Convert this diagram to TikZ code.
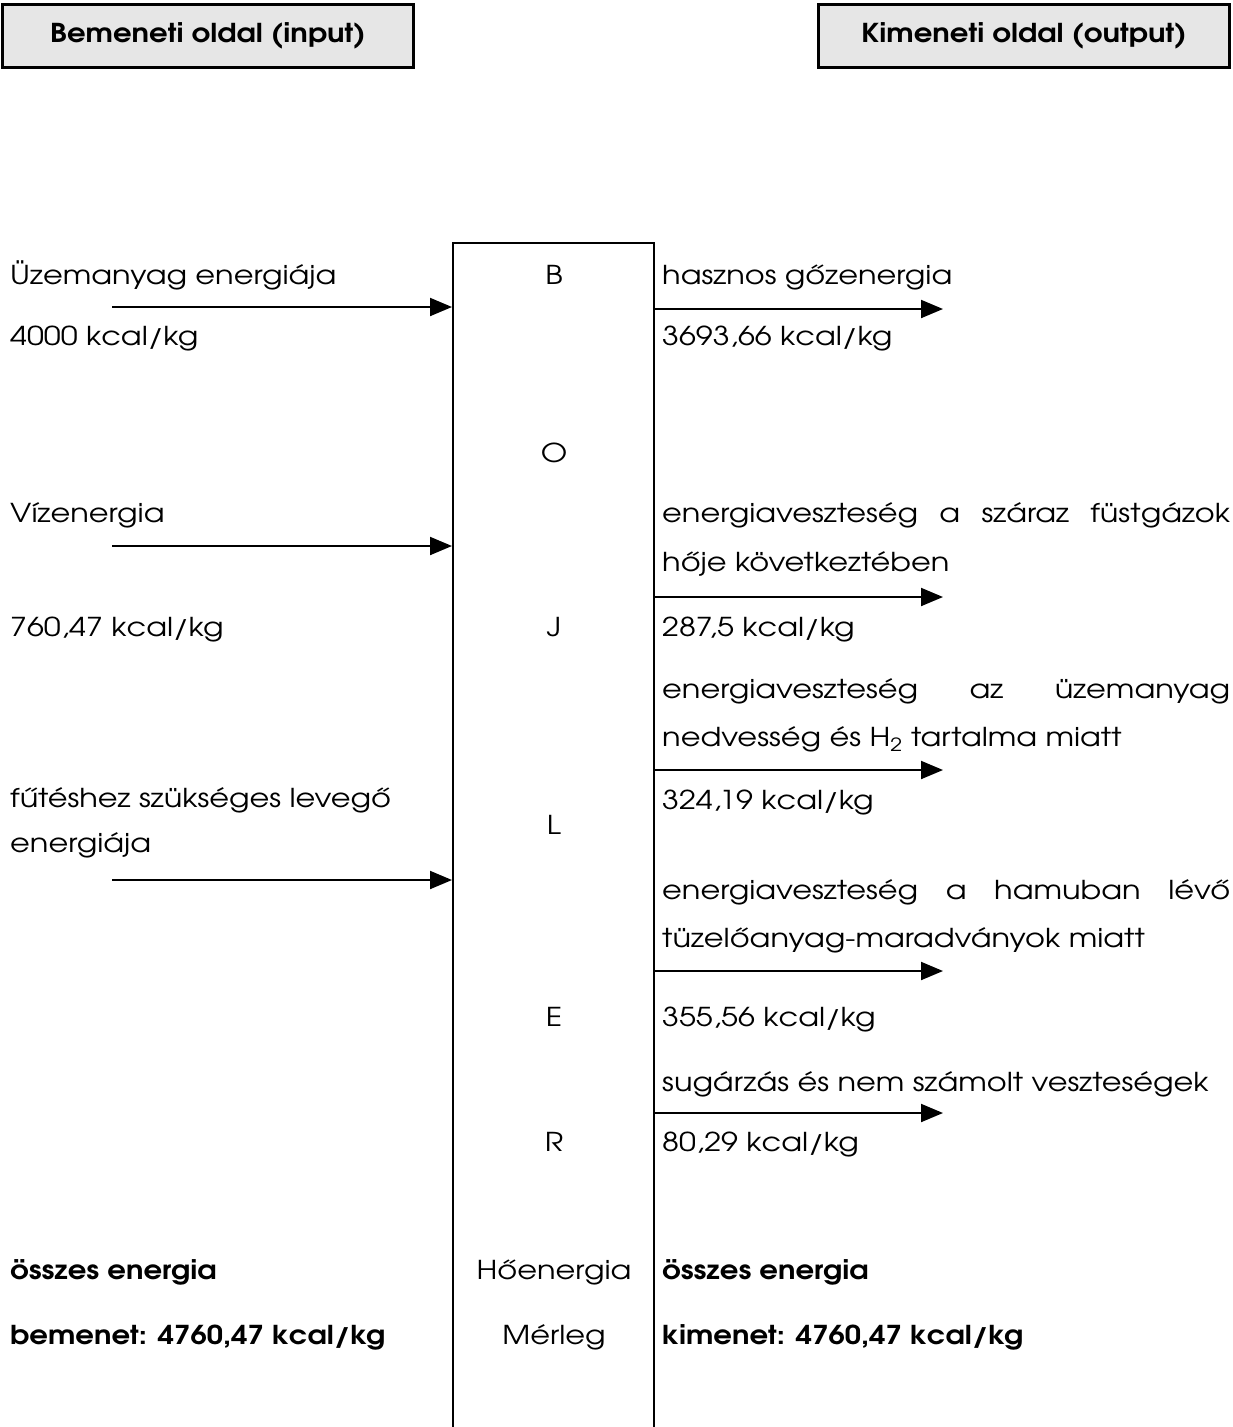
\documentclass[tikz,border=0pt]{standalone}
\usepackage{fontspec}
\setmainfont{texgyreadventor}[
  Extension=.otf,
  UprightFont=*-regular,
  BoldFont=*-bold,
  ItalicFont=*-italic,
  BoldItalicFont=*-bolditalic,
  UprightFeatures={FakeStretch=1.17},
  BoldFeatures={FakeStretch=1.12}]
\usetikzlibrary{arrows.meta}
\definecolor{boxgray}{HTML}{E6E6E6}
\newcommand{\bodyfont}{\fontsize{26}{31}\selectfont}
\begin{document}
\begin{tikzpicture}[x=1pt,y=-1pt,
  txt/.style={anchor=base west, inner sep=0pt, font=\bodyfont},
  mid/.style={anchor=base, inner sep=0pt, font=\bodyfont},
  bold/.style={txt, font=\bodyfont\bfseries},
  headbox/.style={draw, line width=2.5pt, fill=boxgray, minimum width=411pt,
    minimum height=63pt, inner sep=0pt, font=\bodyfont\bfseries},
  flow/.style={line width=2pt, -{Triangle[length=22pt,width=18pt]}},
  wall/.style={line width=2pt}]
\useasboundingbox (0,0) rectangle (1233,1427);

% header boxes
\node[headbox] (inbox) at (208,36) {Bemeneti oldal (input)};
\node[headbox] (outbox) at (1024,36) {Kimeneti oldal (output)};

% central balance column, open at the bottom
\coordinate (cl) at (453,1430);
\coordinate (ctl) at (453,243);
\coordinate (ctr) at (654,243);
\coordinate (cr) at (654,1430);
\draw[wall] (cl) -- (ctl) -- (ctr) -- (cr);

% letters inside the column
\node[mid] (cB) at (554,284) {B};
\node[mid] (cO) at (554,462) {O};
\node[mid] (cJ) at (554,636) {J};
\node[mid] (cL) at (554,834) {L};
\node[mid] (cE) at (554,1026) {E};
\node[mid] (cR) at (554,1151) {R};
\node[mid] (cH) at (554,1279) {Hőenergia};
\node[mid] (cM) at (554,1344) {Mérleg};

% input side
\node[txt] (in1) at (10,284) {Üzemanyag energiája};
\node[txt] (in1v) at (10,345) {4000 kcal/kg};
\node[txt] (in2) at (10,522) {Vízenergia};
\node[txt] (in2v) at (10,636) {760,47 kcal/kg};
\node[txt] (in3) at (10,807) {fűtéshez szükséges levegő};
\node[txt] (in3b) at (10,852) {energiája};
\node[bold] (insum) at (10,1279) {összes energia};
\node[bold] (insumv) at (10,1344) {bemenet: 4760,47 kcal/kg};

\coordinate (a1s) at (112,307);  \coordinate (a1e) at (452,307);
\coordinate (a2s) at (112,546);  \coordinate (a2e) at (452,546);
\coordinate (a3s) at (112,880);  \coordinate (a3e) at (452,880);
\draw[flow] (a1s) -- (a1e);
\draw[flow] (a2s) -- (a2e);
\draw[flow] (a3s) -- (a3e);

% output side
\node[txt] (out1) at (662,284) {hasznos gőzenergia};
\node[txt] (out1v) at (662,345) {3693,66 kcal/kg};
\node[txt] (out2) at (662,522) {\makebox[568pt][s]{energiaveszteség a száraz füstgázok}};
\node[txt] (out2b) at (662,571) {hője következtében};
\node[txt] (out2v) at (662,636) {287,5 kcal/kg};
\node[txt] (out3) at (662,698) {\makebox[568pt][s]{energiaveszteség az üzemanyag}};
\node[txt] (out3b) at (662,746) {nedvesség és H\textsubscript{2} tartalma miatt};
\node[txt] (out3v) at (662,809) {324,19 kcal/kg};
\node[txt] (out4) at (662,899) {\makebox[568pt][s]{energiaveszteség a hamuban lévő}};
\node[txt] (out4b) at (662,947) {tüzelőanyag-maradványok miatt};
\node[txt] (out4v) at (662,1026) {355,56 kcal/kg};
\node[txt] (out5) at (662,1091) {sugárzás és nem számolt veszteségek};
\node[txt] (out5v) at (662,1151) {80,29 kcal/kg};
\node[bold] (outsum) at (662,1279) {összes energia};
\node[bold] (outsumv) at (662,1344) {kimenet: 4760,47 kcal/kg};

\coordinate (b1s) at (655,309);  \coordinate (b1e) at (943,309);
\coordinate (b2s) at (655,597);  \coordinate (b2e) at (943,597);
\coordinate (b3s) at (655,770);  \coordinate (b3e) at (943,770);
\coordinate (b4s) at (655,971);  \coordinate (b4e) at (943,971);
\coordinate (b5s) at (655,1113); \coordinate (b5e) at (943,1113);
\draw[flow] (b1s) -- (b1e);
\draw[flow] (b2s) -- (b2e);
\draw[flow] (b3s) -- (b3e);
\draw[flow] (b4s) -- (b4e);
\draw[flow] (b5s) -- (b5e);
\end{tikzpicture}
\end{document}
